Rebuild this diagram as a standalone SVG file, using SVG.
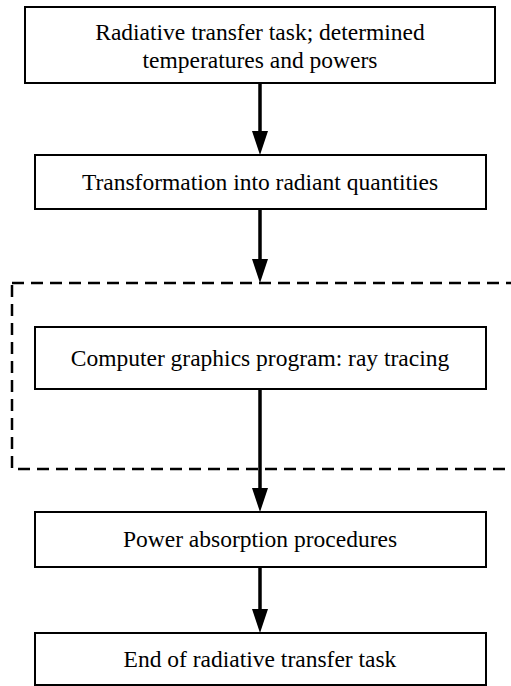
<svg xmlns="http://www.w3.org/2000/svg" width="511" height="686" viewBox="0 0 511 686">
<style>
.box{fill:#fff;stroke:#000;stroke-width:2}
.t{font-family:"Liberation Serif","Times New Roman",serif;font-size:23.5px;fill:#000;text-anchor:middle}
.c{stroke:#000;stroke-width:3.5;fill:none}
.dash{fill:none;stroke:#000;stroke-width:2.5;stroke-dasharray:12,7}
</style>
<rect width="511" height="686" fill="#fff"/>
<g id="group">
<rect class="dash" x="12" y="283" width="505" height="186"/>
</g>
<g id="connectors">
<line class="c" x1="260" y1="84" x2="260" y2="132"/>
<path d="M252,131 L268,131 L260,155 z"/>
<line class="c" x1="260" y1="210" x2="260" y2="260"/>
<path d="M252,259 L268,259 L260,283 z"/>
<line class="c" x1="260" y1="390" x2="260" y2="489"/>
<path d="M252,488 L268,488 L260,512 z"/>
<line class="c" x1="260" y1="568" x2="260" y2="610"/>
<path d="M252,609 L268,609 L260,633 z"/>
</g>
<g id="n1">
<rect class="box" x="25" y="7" width="470" height="76"/>
<text class="t" x="260" y="40">Radiative transfer task; determined</text>
<text class="t" x="260" y="68">temperatures and powers</text>
</g>
<g id="n2">
<rect class="box" x="35" y="155" width="451" height="54"/>
<text class="t" x="260" y="190">Transformation into radiant quantities</text>
</g>
<g id="n3">
<rect class="box" x="35" y="327" width="451" height="62"/>
<text class="t" x="260" y="366">Computer graphics program: ray tracing</text>
</g>
<g id="n4">
<rect class="box" x="35" y="512" width="451" height="55"/>
<text class="t" x="260" y="547">Power absorption procedures</text>
</g>
<g id="n5">
<rect class="box" x="35" y="633" width="451" height="52"/>
<text class="t" x="260" y="667">End of radiative transfer task</text>
</g>
</svg>
